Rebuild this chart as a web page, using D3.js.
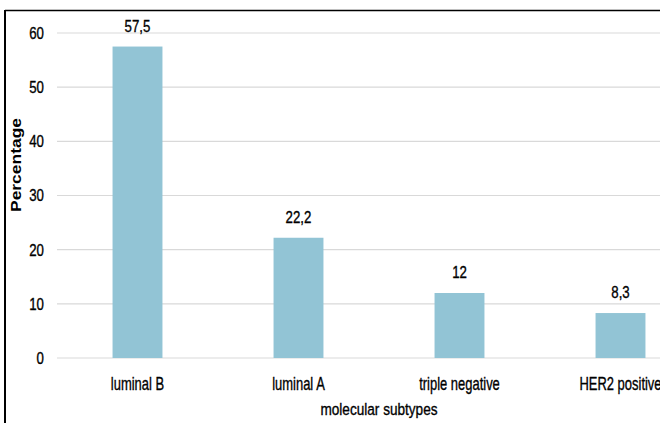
<!DOCTYPE html>
<html>
<head>
<meta charset="utf-8">
<script src="https://cdn.jsdelivr.net/npm/d3@7"></script>
<style>
  body { margin: 0; background: #fff; }
  svg { display: block; font-family: "Liberation Sans", Arial, sans-serif; }
  .lbl { fill: #000; stroke: #000; stroke-width: 0.35px; }
</style>
</head>
<body>
<svg id="chart" width="660" height="423"></svg>
<script>
// chart data
var subtypes = ["luminal B", "luminal A", "triple negative", "HER2 positive"];
var percentages = [57.5, 22.2, 12, 8.3];
var valueLabels = ["57,5", "22,2", "12", "8,3"];
var yTicks = [0, 10, 20, 30, 40, 50, 60];

var svg = d3.select("#chart");
var plot = { left: 57, right: 701, top: 33, bottom: 358 };

var x = d3.scaleBand()
    .domain(subtypes)
    .range([plot.left, plot.right])
    .paddingInner(0.69)
    .paddingOuter(0.345);

var y = d3.scaleLinear()
    .domain([0, 60])
    .range([plot.bottom, plot.top]);

// narrow text: the source uses a condensed face, squeeze Liberation Sans
function narrow(sel, sx) {
    return sel.attr("transform", function () {
        var t = d3.select(this);
        return "translate(" + t.attr("data-x") + "," + t.attr("data-y") + ") scale(" + sx + ",1)";
    });
}

// frame lines
svg.append("line")
   .attr("x1", 5).attr("x2", 660).attr("y1", 10.5).attr("y2", 10.5)
   .attr("stroke", "#000").attr("stroke-width", 1.5);
svg.append("line")
   .attr("x1", 5).attr("x2", 5).attr("y1", 10).attr("y2", 423)
   .attr("stroke", "#000").attr("stroke-width", 2);

// gridlines
svg.append("g")
   .selectAll("line")
   .data(yTicks)
   .enter()
   .append("line")
   .attr("x1", plot.left)
   .attr("x2", 660)
   .attr("y1", d => y(d))
   .attr("y2", d => y(d))
   .attr("stroke", "#d9d9d9")
   .attr("stroke-width", 1.2);

// y tick labels
svg.append("g")
   .selectAll("text")
   .data(yTicks)
   .enter()
   .append("text")
   .attr("class", "lbl")
   .attr("data-x", 44)
   .attr("data-y", d => y(d))
   .attr("dy", "0.35em")
   .attr("text-anchor", "end")
   .style("font-size", "17px")
   .text(d => d)
   .call(narrow, 0.78);

// bars
svg.append("g")
   .selectAll("rect")
   .data(percentages)
   .enter()
   .append("rect")
   .attr("x", (d, i) => x(subtypes[i]))
   .attr("width", x.bandwidth())
   .attr("y", d => y(d))
   .attr("height", d => y(0) - y(d))
   .attr("fill", "#92c4d5");

// value labels
svg.append("g")
   .selectAll("text")
   .data(percentages)
   .enter()
   .append("text")
   .attr("class", "lbl")
   .attr("data-x", (d, i) => x(subtypes[i]) + x.bandwidth() / 2)
   .attr("data-y", d => y(d) - 15)
   .attr("text-anchor", "middle")
   .style("font-size", "17px")
   .text((d, i) => valueLabels[i])
   .call(narrow, 0.78);

// category labels
svg.append("g")
   .selectAll("text")
   .data(subtypes)
   .enter()
   .append("text")
   .attr("class", "lbl")
   .attr("data-x", d => x(d) + x.bandwidth() / 2)
   .attr("data-y", 390)
   .attr("text-anchor", "middle")
   .style("font-size", "18px")
   .text(d => d)
   .call(narrow, 0.72);

// axis titles
svg.append("text")
   .attr("class", "lbl")
   .attr("data-x", (plot.left + plot.right) / 2)
   .attr("data-y", 415)
   .attr("text-anchor", "middle")
   .style("font-size", "17px")
   .text("molecular  subtypes")
   .call(narrow, 0.8);

svg.append("text")
   .attr("transform", "translate(21,165) rotate(-90)")
   .attr("text-anchor", "middle")
   .style("font-size", "15px")
   .style("font-weight", "bold")
   .attr("textLength", 94)
   .attr("lengthAdjust", "spacingAndGlyphs")
   .text("Percentage");
</script>
</body>
</html>
